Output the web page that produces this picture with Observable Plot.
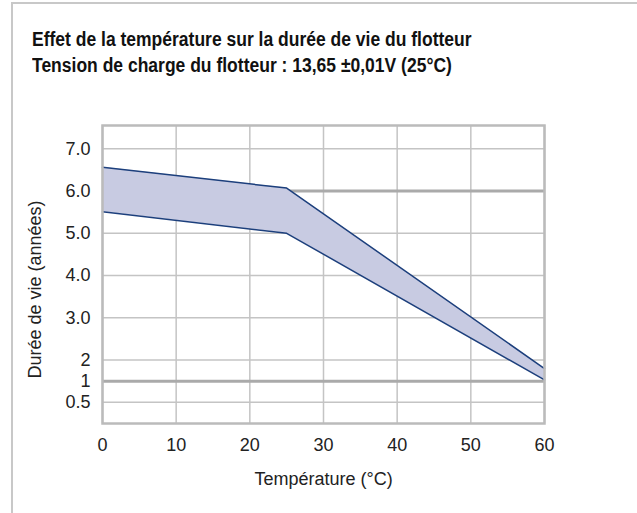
<!DOCTYPE html>
<html>
<head>
<meta charset="utf-8">
<script src="https://cdn.jsdelivr.net/npm/d3@7"></script>
<script src="https://cdn.jsdelivr.net/npm/@observablehq/plot@0.6"></script>
<style>
  html, body { margin: 0; padding: 0; background: #fff; width: 637px; height: 513px; overflow: hidden; }
  #frame { position: absolute; left: 11px; top: 2px; width: 640px; height: 520px;
           border-left: 2px solid #c8c8c8; border-top: 2px solid #c8c8c8; box-sizing: border-box; }
  #title { position: absolute; left: 32px; top: 26px; font-family: "Liberation Sans", Arial, sans-serif;
           font-weight: bold; font-size: 20px; line-height: 26px; color: #111; white-space: nowrap;
           transform: scaleX(0.875); transform-origin: 0 0; }
  #chart { position: absolute; left: 0; top: 0; }
</style>
</head>
<body>
<div id="frame"></div>
<div id="chart"></div>
<div id="title">Effet de la température sur la durée de vie du flotteur<br>Tension de charge du flotteur : 13,65 ±0,01V (25°C)</div>
<script>
const temperature = [0, 25, 60];
const lifeHigh = [6.56, 6.07, 1.80];
const lifeLow = [5.51, 5.00, 1.53];
const xTicks = [0, 10, 20, 30, 40, 50, 60];
const yTickValues = [7, 6, 5, 4, 3, 2, 1.5, 1];
const yTickLabels = ["7.0", "6.0", "5.0", "4.0", "3.0", "2", "1", "0.5"];
const emphasisLines = [6, 1.5];

const data = temperature.map((t, i) => ({t, hi: lifeHigh[i], lo: lifeLow[i]}));
const labelOf = new Map(yTickValues.map((v, i) => [v, yTickLabels[i]]));

const plot = Plot.plot({
  width: 637,
  height: 513,
  marginLeft: 102,
  marginRight: 93,
  marginTop: 125,
  marginBottom: 90,
  style: {fontFamily: "'Liberation Sans', Arial, sans-serif", fontSize: "18px", color: "#222", background: "transparent"},
  x: {domain: [0, 60], ticks: xTicks, tickSize: 0, tickPadding: 15, label: null},
  y: {domain: [0.5, 7.55], ticks: yTickValues, tickSize: 0, tickPadding: 12, label: null,
      tickFormat: d => labelOf.get(d)},
  marks: [
    Plot.gridX(xTicks, {stroke: "#c4c4c4", strokeOpacity: 1, strokeWidth: 1.5}),
    Plot.gridY(yTickValues, {stroke: "#c4c4c4", strokeOpacity: 1, strokeWidth: 1.5}),
    Plot.ruleY(emphasisLines, {stroke: "#aaaaaa", strokeWidth: 3}),
    Plot.areaY(data, {x: "t", y1: "lo", y2: "hi", fill: "#c8cbe2"}),
    Plot.lineY(data, {x: "t", y: "hi", stroke: "#1c3f7c", strokeWidth: 1.5}),
    Plot.lineY(data, {x: "t", y: "lo", stroke: "#1c3f7c", strokeWidth: 1.5}),
    Plot.frame({stroke: "#bbbbbb", strokeWidth: 2.5}),
    Plot.axisX({ticks: xTicks, tickSize: 0, tickPadding: 15, label: null}),
    Plot.axisY({ticks: yTickValues, tickSize: 0, tickPadding: 12, label: null, tickFormat: d => labelOf.get(d)}),
    Plot.text(["Température (°C)"], {frameAnchor: "bottom", dy: 61, fontSize: 18}),
    Plot.text(["Durée de vie (années)"], {frameAnchor: "left", textAnchor: "middle", dx: -67, dy: 15, rotate: -90, fontSize: 18})
  ]
});
document.getElementById("chart").appendChild(plot);
</script>
</body>
</html>
